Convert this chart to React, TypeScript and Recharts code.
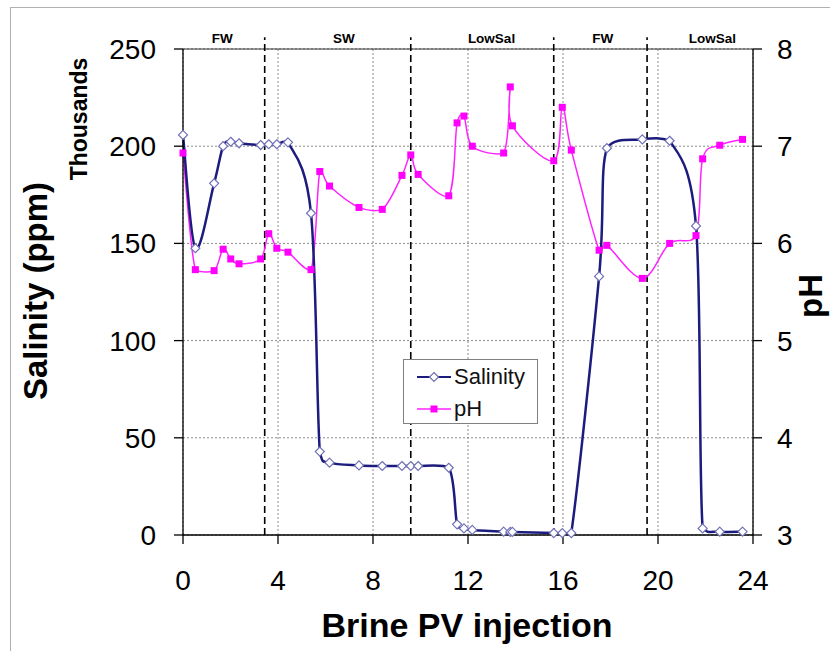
import { LineChart, Line, XAxis, YAxis, CartesianGrid, ReferenceLine, ReferenceDot, Legend, Label } from 'recharts'

const pv = [0, 0.52, 1.31, 1.69, 2.01, 2.36, 3.27, 3.61, 3.95, 4.42, 5.39, 5.76, 6.17, 7.41, 8.39, 9.22, 9.59, 9.9, 11.19, 11.54, 11.83, 12.18, 13.5, 13.78, 13.87, 15.61, 15.97, 16.35, 17.52, 17.85, 19.34, 20.49, 21.6, 21.88, 22.6, 23.56]
// salinity in thousands of ppm
const salinity = [205.8, 147.5, 180.9, 200, 202.3, 201.5, 200.6, 201, 201, 202, 165.5, 42.9, 37.2, 35.8, 35.5, 35.5, 35.5, 35.5, 34.6, 5.5, 3.4, 2.6, 1.7, 1.6, 1.6, 1.0, 1.0, 1.0, 133, 199, 203.5, 202.8, 159, 3.4, 1.7, 1.7]
const ph = [6.93, 5.73, 5.72, 5.94, 5.84, 5.79, 5.84, 6.1, 5.95, 5.91, 5.73, 6.74, 6.59, 6.37, 6.35, 6.7, 6.91, 6.71, 6.49, 7.24, 7.31, 7.0, 6.93, 7.61, 7.21, 6.85, 7.4, 6.96, 5.93, 5.98, 5.64, 6.0, 6.08, 6.87, 7.01, 7.07]

const xTicks = [0, 4, 8, 12, 16, 20, 24]
const salTicks = [0, 50, 100, 150, 200, 250]
const phTicks = [3, 4, 5, 6, 7, 8]

// where the injected brine was switched, and what was injected
const switchPoints = [3.44, 9.59, 15.61, 19.54]
const brineNames = ['FW', 'SW', 'LowSal', 'FW', 'LowSal']
const brineLabelAt = [1.65, 6.77, 12.99, 17.67, 22.29]

const data = pv.map((x, i) => ({ x, salinity: salinity[i], ph: ph[i] }))

const font = 'Arial, "Liberation Sans", sans-serif'
const navy = '#1c1c7e'
const pink = '#ff22ff'

// excel-like smoothing: bezier through every point, control points kept
// near the segment so steep steps don't overshoot
function excelSmooth(context: any) {
  let pts: number[][] = []
  const clamp = (v: number, a: number, b: number) => {
    const lo = Math.min(a, b)
    const hi = Math.max(a, b)
    const pad = 0.08 * (hi - lo) + 2
    return Math.max(lo - pad, Math.min(hi + pad, v))
  }
  return {
    areaStart() {},
    areaEnd() {},
    lineStart() {
      pts = []
    },
    point(x: number, y: number) {
      pts.push([+x, +y])
    },
    lineEnd() {
      if (!pts.length) return
      context.moveTo(pts[0][0], pts[0][1])
      for (let i = 0; i < pts.length - 1; i++) {
        const p0 = pts[i - 1] || pts[i]
        const p1 = pts[i]
        const p2 = pts[i + 1]
        const p3 = pts[i + 2] || p2
        context.bezierCurveTo(
          p1[0] + (p2[0] - p0[0]) / 6,
          clamp(p1[1] + (p2[1] - p0[1]) / 6, p1[1], p2[1]),
          p2[0] - (p3[0] - p1[0]) / 6,
          clamp(p2[1] - (p3[1] - p1[1]) / 6, p1[1], p2[1]),
          p2[0],
          p2[1]
        )
      }
    },
  }
}

const diamond = (p: any) => {
  const { cx, cy, index } = p
  if (cx == null || cy == null) return <g key={index} />
  const r = 4.5
  return (
    <path
      key={index}
      d={`M${cx},${cy - r}L${cx + r},${cy}L${cx},${cy + r}L${cx - r},${cy}Z`}
      fill='#fff'
      stroke='#7070b8'
      strokeWidth={1.2}
    />
  )
}

const square = (p: any) => {
  const { cx, cy, index } = p
  if (cx == null || cy == null) return <g key={index} />
  return <rect key={index} x={cx - 3.5} y={cy - 3.5} width={7} height={7} fill='#ff00ff' />
}

const LegendBox = () => (
  <div
    style={{
      boxSizing: 'border-box',
      width: 135,
      height: 65,
      border: '1px solid #808080',
      background: '#fff',
      padding: '1px 0 0 13px',
      fontFamily: font,
      fontSize: 22,
      color: '#111',
    }}
  >
    <div style={{ display: 'flex', alignItems: 'center', height: 32 }}>
      <svg width={34} height={14}>
        <line x1={0} y1={7} x2={34} y2={7} stroke={navy} strokeWidth={2} />
        <path d='M17,2.5L21.5,7L17,11.5L12.5,7Z' fill='#fff' stroke='#7070b8' strokeWidth={1.2} />
      </svg>
      <span style={{ marginLeft: 3 }}>Salinity</span>
    </div>
    <div style={{ display: 'flex', alignItems: 'center', height: 32 }}>
      <svg width={34} height={14}>
        <line x1={0} y1={7} x2={34} y2={7} stroke={pink} strokeWidth={1.5} />
        <rect x={13.5} y={3.5} width={7} height={7} fill='#ff00ff' />
      </svg>
      <span style={{ marginLeft: 3 }}>pH</span>
    </div>
  </div>
)

const titleStyle = { fontFamily: font, fontWeight: 700, fill: '#000' }

export default function App() {
  return (
    <div style={{ position: 'absolute', left: 0, top: 0, width: 830, height: 651, overflow: 'hidden', background: '#fff' }}>
      <div
        style={{
          position: 'absolute',
          left: 10,
          top: 7,
          width: 900,
          height: 700,
          borderLeft: '1.5px solid #b0b0b0',
          borderTop: '1.5px solid #b0b0b0',
        }}
      />
      <LineChart
        width={830}
        height={651}
        data={data}
        margin={{ top: 49, right: 27, bottom: 56, left: 83 }}
        style={{ position: 'absolute', left: 0, top: 0 }}
      >
        <CartesianGrid yAxisId='left' stroke='#8a8a8a' strokeDasharray='2 2' strokeWidth={1} />
        <XAxis
          dataKey='x'
          type='number'
          domain={[0, 24]}
          ticks={xTicks}
          interval={0}
          height={60}
          tickSize={9}
          tickMargin={26}
          stroke='#000'
          strokeWidth={1.3}
          tick={{ fontSize: 28, fill: '#000', fontFamily: font }}
        >
          <Label
            content={() => (
              <text x={467} y={637} textAnchor='middle' fontSize={34} style={titleStyle}>
                Brine PV injection
              </text>
            )}
          />
        </XAxis>
        <YAxis
          yAxisId='left'
          domain={[0, 250]}
          ticks={salTicks}
          interval={0}
          width={100}
          tickSize={9}
          tickMargin={18}
          stroke='#000'
          strokeWidth={1.3}
          tick={{ fontSize: 28, fill: '#000', fontFamily: font }}
        >
          <Label
            content={() => (
              <g>
                <text x={0} y={0} transform='translate(47,291) rotate(-90)' textAnchor='middle' fontSize={33} style={titleStyle}>
                  Salinity (ppm)
                </text>
                <text x={0} y={0} transform='translate(87,119) rotate(-90)' textAnchor='middle' fontSize={23} style={titleStyle}>
                  Thousands
                </text>
              </g>
            )}
          />
        </YAxis>
        <YAxis
          yAxisId='right'
          orientation='right'
          domain={[3, 8]}
          ticks={phTicks}
          interval={0}
          width={50}
          tickSize={9}
          tickMargin={15}
          stroke='#000'
          strokeWidth={1.3}
          tick={{ fontSize: 28, fill: '#000', fontFamily: font }}
        >
          <Label
            content={() => (
              <text x={0} y={0} transform='translate(822,296) rotate(-90)' textAnchor='middle' fontSize={33} style={titleStyle}>
                pH
              </text>
            )}
          />
        </YAxis>
        <ReferenceLine yAxisId='left' y={250} stroke='#333' strokeWidth={1} />
        {switchPoints.map((s) => (
          <ReferenceLine
            key={s}
            yAxisId='left'
            segment={[
              { x: s, y: 0 },
              { x: s, y: 256 },
            ]}
            ifOverflow='visible'
            stroke='#000'
            strokeWidth={1.6}
            strokeDasharray='7 4'
          />
        ))}
        {brineNames.map((name, i) => (
          <ReferenceDot
            key={i}
            yAxisId='left'
            x={brineLabelAt[i]}
            y={255.7}
            r={0}
            fill='none'
            stroke='none'
            ifOverflow='visible'
            label={{ value: name, position: 'center', fontSize: 13.5, fontWeight: 700, fill: '#000', fontFamily: font }}
          />
        ))}
        <Line
          yAxisId='right'
          dataKey='ph'
          type={excelSmooth as any}
          stroke={pink}
          strokeWidth={1.5}
          dot={square}
          activeDot={false}
          isAnimationActive={false}
        />
        <Line
          yAxisId='left'
          dataKey='salinity'
          type={excelSmooth as any}
          stroke={navy}
          strokeWidth={2.5}
          dot={diamond}
          activeDot={false}
          isAnimationActive={false}
        />
        <Legend
          layout='vertical'
          align='center'
          verticalAlign='middle'
          wrapperStyle={{ left: 403, top: 359, width: 135, height: 65 }}
          content={() => <LegendBox />}
        />
      </LineChart>
    </div>
  )
}
